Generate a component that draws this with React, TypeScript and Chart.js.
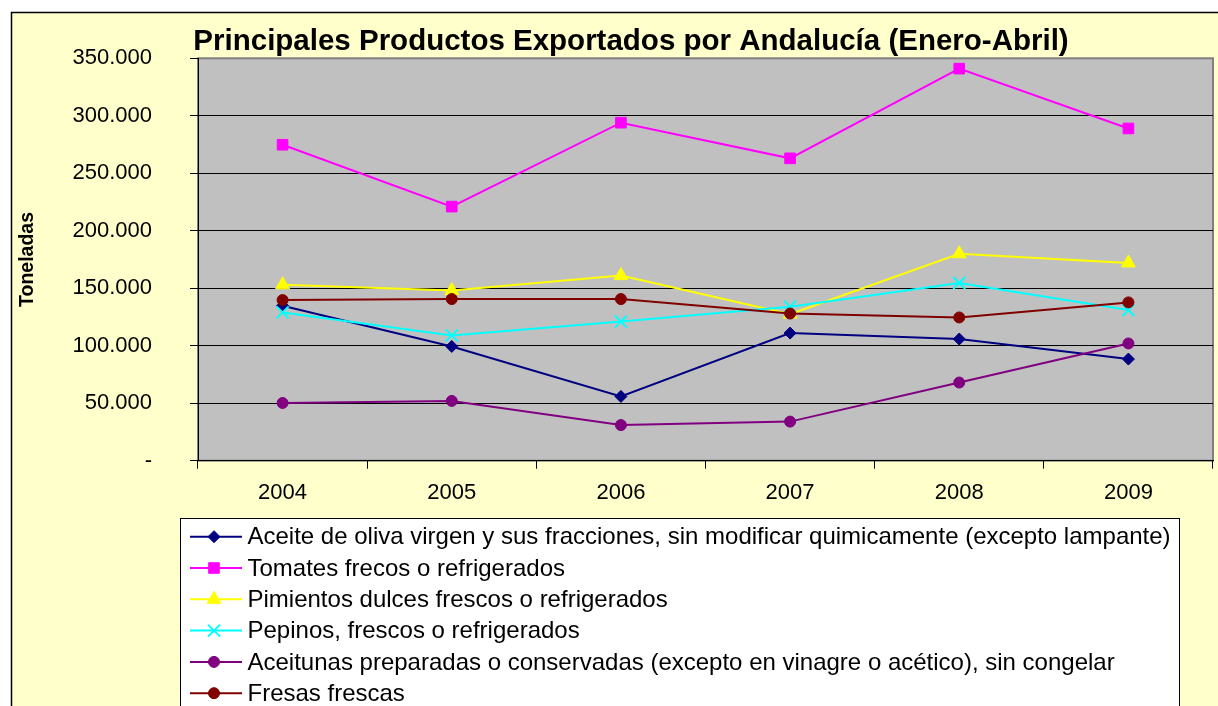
import React, { useEffect, useRef } from 'react';
import { Chart, registerables } from 'chart.js';
import { drawPoint } from 'chart.js/helpers';

Chart.register(...registerables);

// ---------- data ----------
const TITLE = 'Principales Productos Exportados por Andalucía (Enero-Abril)';
const Y_TITLE = 'Toneladas';
const years = ['2004', '2005', '2006', '2007', '2008', '2009'];

const seriesLabels = [
  'Aceite de oliva virgen y sus fracciones, sin modificar quimicamente (excepto lampante)',
  'Tomates frecos o refrigerados',
  'Pimientos dulces frescos o refrigerados',
  'Pepinos, frescos o refrigerados',
  'Aceitunas preparadas o conservadas (excepto en vinagre o acético), sin congelar',
  'Fresas frescas',
];

const aceite = [134800, 99400, 55900, 111000, 105800, 88400];
const tomates = [274800, 221000, 294000, 263000, 341000, 289000];
const pimientos = [153000, 148000, 161000, 127500, 180000, 172000];
const pepinos = [129000, 109000, 121000, 134000, 154500, 131000];
const aceitunas = [50200, 52000, 31000, 34000, 68000, 102000];
const fresas = [139700, 140600, 140600, 128000, 124600, 137700];

const seriesValues = [aceite, tomates, pimientos, pepinos, aceitunas, fresas];
const seriesColors = ['#000080', '#FF00FF', '#FFFF00', '#00FFFF', '#800080', '#800000'];
const seriesStyles = ['rectRot', 'rect', 'triangle', 'crossRot', 'circle', 'circle'];
const seriesRadius = [6, 7.5, 8, 8.5, 5.5, 5.5];

const Y_MIN = 0;
const Y_MAX = 350000;
const Y_STEP = 50000;

// ---------- styling ----------
const FONT = '"Liberation Sans", Arial, Helvetica, sans-serif';
const W = 1218;
const H = 706;
const BG = '#FFFFCC';
const PLOT_BG = '#C0C0C0';

function fmt(v: number): string {
  if (v === 0) return '-';
  return Math.round(v)
    .toString()
    .replace(/\B(?=(\d{3})+(?!\d))/g, '.');
}

const framePlugin = {
  id: 'excelFrame',
  beforeDraw(chart: any) {
    const { ctx, chartArea } = chart;
    ctx.save();
    ctx.fillStyle = '#FFFFFF';
    ctx.fillRect(0, 0, W, H);
    // outer background
    ctx.fillStyle = BG;
    ctx.fillRect(11, 12, W - 11, H - 12);
    ctx.strokeStyle = '#000';
    ctx.lineWidth = 1.5;
    ctx.beginPath();
    ctx.moveTo(11.5, H);
    ctx.lineTo(11.5, 12.5);
    ctx.lineTo(W, 12.5);
    ctx.stroke();
    // plot area
    ctx.fillStyle = PLOT_BG;
    ctx.fillRect(chartArea.left, chartArea.top, chartArea.right - chartArea.left, chartArea.bottom - chartArea.top);
    ctx.strokeStyle = '#808080';
    ctx.lineWidth = 2;
    ctx.strokeRect(chartArea.left, chartArea.top, chartArea.right - chartArea.left, chartArea.bottom - chartArea.top);
    // title
    ctx.fillStyle = '#000';
    ctx.font = `bold 29.5px ${FONT}`;
    ctx.textAlign = 'center';
    ctx.textBaseline = 'alphabetic';
    ctx.fillText(TITLE, 631, 50);
    ctx.restore();
  },
  afterDraw(chart: any) {
    const { ctx } = chart;
    ctx.save();
    const left = 180;
    const top = 518.5;
    const right = 1179;
    ctx.fillStyle = '#FFFFFF';
    ctx.fillRect(left, top, right - left, H - top + 10);
    ctx.strokeStyle = '#000';
    ctx.lineWidth = 1;
    ctx.strokeRect(left + 0.5, top, right - left, H - top + 10);
    ctx.font = `24px ${FONT}`;
    ctx.textBaseline = 'middle';
    ctx.textAlign = 'left';
    seriesLabels.forEach((label, i) => {
      const y = 536.7 + i * 31.3;
      const color = seriesColors[i];
      ctx.strokeStyle = color;
      ctx.lineWidth = 2;
      ctx.beginPath();
      ctx.moveTo(190, y);
      ctx.lineTo(242, y);
      ctx.stroke();
      ctx.fillStyle = color;
      ctx.strokeStyle = color;
      ctx.lineWidth = seriesStyles[i] === 'crossRot' ? 2 : 1;
      drawPoint(ctx, { pointStyle: seriesStyles[i] as any, radius: seriesRadius[i], borderWidth: ctx.lineWidth, rotation: 0 } as any, 214, y);
      ctx.fillStyle = '#000';
      ctx.fillText(label, 247.5, y + 1);
    });
    ctx.restore();
  },
};

export default function App() {
  const ref = useRef<HTMLCanvasElement>(null);

  useEffect(() => {
    document.documentElement.style.overflow = 'hidden';
    const n = seriesValues.length;
    const chart = new Chart(ref.current as HTMLCanvasElement, {
      type: 'line',
      data: {
        labels: years,
        datasets: seriesValues.map((vals, i) => ({
          label: seriesLabels[i],
          data: vals,
          borderColor: seriesColors[i],
          backgroundColor: seriesColors[i],
          pointBackgroundColor: seriesColors[i],
          pointBorderColor: seriesColors[i],
          pointStyle: seriesStyles[i] as any,
          pointRadius: seriesRadius[i],
          pointBorderWidth: seriesStyles[i] === 'crossRot' ? 2 : 1,
          borderWidth: 2,
          tension: 0,
          fill: false,
          order: n - 1 - i,
        })),
      },
      options: {
        responsive: false,
        animation: false,
        events: [],
        layout: { autoPadding: false, padding: { left: 11, right: 5, top: 58.3, bottom: 205.3 } },
        plugins: {
          legend: { display: false },
          title: { display: false },
          tooltip: { enabled: false },
        },
        scales: {
          x: {
            type: 'category',
            offset: true,
            afterFit: (axis: any) => {
              axis.height = 40;
              axis.paddingLeft = 0;
              axis.paddingRight = 0;
            },
            grid: {
              display: true,
              drawOnChartArea: false,
              drawTicks: true,
              tickLength: 8,
              color: '#000',
              offset: true,
            },
            border: { display: true, color: '#000', width: 1 },
            ticks: {
              color: '#000',
              font: { family: FONT, size: 22 },
              padding: 11,
              autoSkip: false,
              maxRotation: 0,
            },
          },
          y: {
            min: Y_MIN,
            max: Y_MAX,
            afterFit: (axis: any) => {
              axis.width = 187;
              axis.paddingTop = 0;
              axis.paddingBottom = 0;
            },
            grid: {
              display: true,
              drawOnChartArea: true,
              drawTicks: true,
              tickLength: 8,
              color: (c: any) => (c.tick && c.tick.value === Y_MAX ? '#808080' : '#000'),
              tickColor: '#000',
              lineWidth: 1,
            },
            border: { display: true, color: '#000', width: 1 },
            ticks: {
              stepSize: Y_STEP,
              color: '#000',
              font: { family: FONT, size: 22 },
              padding: 38,
              autoSkip: false,
              callback: (v: any) => fmt(Number(v)),
            },
            title: {
              display: true,
              text: Y_TITLE,
              color: '#000',
              font: { family: FONT, size: 19.5, weight: 'bold' },
              padding: { top: 5, bottom: 0 },
            },
          },
        },
      },
      plugins: [framePlugin],
    });
    return () => chart.destroy();
  }, []);

  return (
    <div style={{ position: 'fixed', left: 0, top: 0, width: W, height: H, overflow: 'hidden' }}>
      <canvas ref={ref} width={W} height={H} style={{ display: 'block', width: W, height: H }} />
    </div>
  );
}
